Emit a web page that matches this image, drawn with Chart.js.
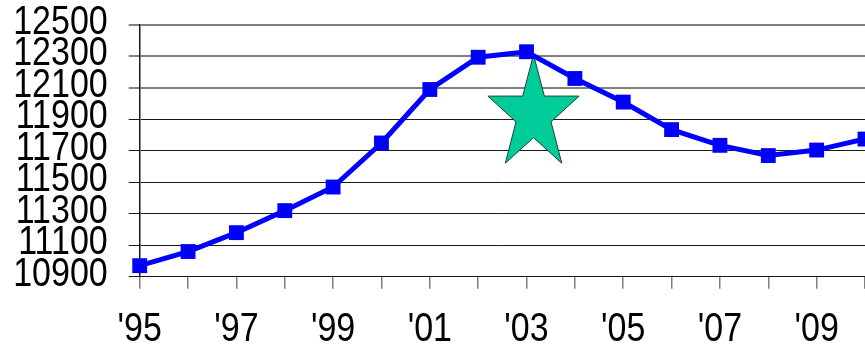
<!DOCTYPE html>
<html>
<head>
<meta charset="utf-8">
<script src="https://cdn.jsdelivr.net/npm/chart.js@4/dist/chart.umd.min.js"></script>
<style>
  html, body { margin: 0; padding: 0; background: #ffffff; }
  #wrap { width: 865px; height: 349px; }
</style>
</head>
<body>
<div id="wrap"><canvas id="chart" width="865" height="349"></canvas></div>
<script>
// Years on the category axis
const years = ["'95", "'96", "'97", "'98", "'99", "'00", "'01", "'02",
               "'03", "'04", "'05", "'06", "'07", "'08", "'09", "'10"];
// Yearly totals
const totals = [10970, 11060, 11180, 11320, 11470, 11750, 12090, 12295,
                12330, 12160, 12010, 11835, 11735, 11670, 11705, 11775];
// Value axis range
const yMin = 10900;
const yMax = 12500;
const yStep = 200;
// Star highlight placed at the peak year
const starYear = "'03";
const starValue = 11930;

const FONT = '"Liberation Sans", Arial, sans-serif';
// Horizontal squeeze applied to tick labels (narrow lettering)
const LABEL_SQUEEZE = 0.85;

// Five-pointed star drawn behind the series
const starPlugin = {
  id: 'peakStar',
  beforeDatasetsDraw(chart) {
    const { ctx, scales } = chart;
    const cx = scales.x.getPixelForValue(years.indexOf(starYear)) + 7;
    const cy = scales.y.getPixelForValue(starValue);
    const R = 60, r = 23, sx = 0.8;
    ctx.save();
    ctx.beginPath();
    for (let i = 0; i < 10; i++) {
      const rad = i % 2 === 0 ? R : r;
      const a = -Math.PI / 2 + i * Math.PI / 5;
      const px = cx + Math.cos(a) * rad * sx;
      const py = cy + Math.sin(a) * rad;
      if (i === 0) ctx.moveTo(px, py); else ctx.lineTo(px, py);
    }
    ctx.closePath();
    ctx.fillStyle = '#00CC99';
    ctx.fill();
    ctx.lineWidth = 1;
    ctx.strokeStyle = '#1f3f36';
    ctx.stroke();
    ctx.restore();
  }
};

// Draws the axis tick labels in a condensed (horizontally squeezed) form
const narrowTicksPlugin = {
  id: 'narrowTicks',
  beforeDraw(chart) {
    const K = LABEL_SQUEEZE;
    ['x', 'y'].forEach((id) => {
      const s = chart.scales[id];
      if (!s || s._narrowPatched) return;
      s._narrowPatched = true;
      const baseDraw = s.drawLabels.bind(s);
      s._computeLabelArea = () => undefined;
      s.drawLabels = function (area) {
        const items = this.getLabelItems(area);
        const orig = items.map((it) => it.options.translation);
        items.forEach((it) => {
          const t = it.options.translation;
          it.options.translation = [t[0] / K, t[1]];
        });
        const ctx = this.ctx;
        ctx.save();
        ctx.scale(K, 1);
        baseDraw(area);
        ctx.restore();
        items.forEach((it, i) => { it.options.translation = orig[i]; });
      };
    });
  }
};

new Chart(document.getElementById('chart'), {
  type: 'line',
  data: {
    labels: years,
    datasets: [{
      data: totals,
      borderColor: '#0000FF',
      backgroundColor: '#0000FF',
      borderWidth: 5,
      pointStyle: 'rect',
      pointRadius: 10.5,
      pointBorderWidth: 0,
      pointBackgroundColor: '#0000FF',
      tension: 0,
      clip: false
    }]
  },
  options: {
    responsive: false,
    animation: false,
    devicePixelRatio: 1,
    layout: { autoPadding: false, padding: { left: 12, top: 25, right: 0, bottom: 0 } },
    plugins: { legend: { display: false }, tooltip: { enabled: false } },
    scales: {
      x: {
        offset: false,
        afterFit: (s) => { s.paddingLeft = 0; s.paddingRight = 0; s.height = 72.3; },
        border: { display: true, color: '#1a1a1a', width: 1 },
        grid: {
          display: true,
          drawOnChartArea: false,
          drawTicks: true,
          tickLength: 12,
          color: '#808080',
          lineWidth: 1.5
        },
        ticks: {
          autoSkip: false,
          maxRotation: 0,
          minRotation: 0,
          padding: 17,
          color: '#000000',
          font: { family: FONT, size: 40 },
          callback: (v, i) => (i % 2 === 0 ? years[i] : '')
        }
      },
      y: {
        min: yMin,
        max: yMax,
        afterFit: (s) => { s.paddingTop = 0; s.paddingBottom = 0; s.width = 127.7; },
        border: { display: true, color: '#1a1a1a', width: 1.5 },
        grid: {
          display: true,
          drawTicks: true,
          tickLength: 11,
          color: (c) => (c.tick && c.tick.value >= 12100 ? '#808080' : '#1a1a1a'),
          lineWidth: (c) => (c.tick && c.tick.value >= 12100 ? 2 : 1)
        },
        ticks: {
          autoSkip: false,
          stepSize: yStep,
          padding: 21,
          labelOffset: -2,
          color: '#000000',
          font: { family: FONT, size: 40 },
          callback: (v) => String(v)
        }
      }
    }
  },
  plugins: [starPlugin, narrowTicksPlugin]
});
</script>
</body>
</html>
